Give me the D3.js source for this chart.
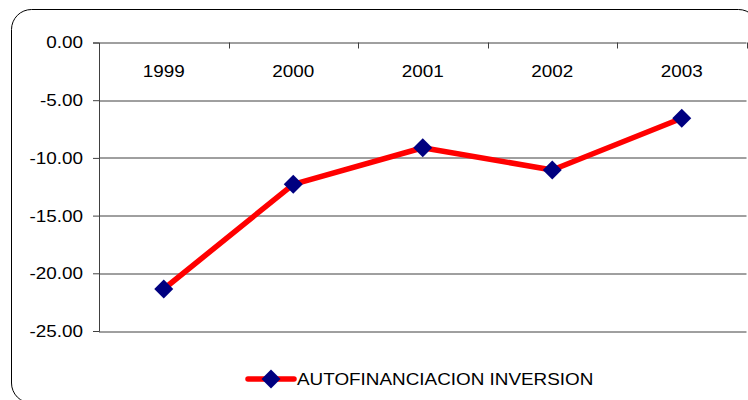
<!DOCTYPE html>
<html>
<head>
<meta charset="utf-8">
<script src="https://cdn.jsdelivr.net/npm/d3@7"></script>
<style>
  body { margin: 0; background: #fff; }
  svg text { font-family: "Liberation Sans", Arial, sans-serif; }
</style>
</head>
<body>
<svg id="chart" width="748" height="400"></svg>
<script>
// Data
const years = ["1999", "2000", "2001", "2002", "2003"];
const values = [-21.36, -12.29, -9.12, -11.05, -6.57];
const yTicks = [0, -5, -10, -15, -20, -25];
const seriesName = "AUTOFINANCIACION INVERSION";

const svg = d3.select("#chart");
const margin = { top: 42.5, left: 99, right: 1.5, bottom: 69 };
const width = 748 - margin.left - margin.right;
const height = 400 - margin.top - margin.bottom;

// Outer chart border (rounded, runs off the frame on the right and bottom)
svg.append("rect")
  .attr("x", 11.5).attr("y", 9.5)
  .attr("width", 747).attr("height", 393.5)
  .attr("rx", 20).attr("ry", 20)
  .attr("fill", "none")
  .attr("stroke", "#000")
  .attr("stroke-width", 1);

const g = svg.append("g").attr("transform", `translate(${margin.left},${margin.top})`);

const x = d3.scaleBand().domain(years).range([0, width]);
const y = d3.scaleLinear().domain([0, -25]).range([0, height]);

// Horizontal gridlines
g.selectAll(".grid")
  .data(yTicks)
  .enter()
  .append("line")
  .attr("x1", 0).attr("x2", width)
  .attr("y1", (d) => Math.round(y(d)) + 0.5)
  .attr("y2", (d) => Math.round(y(d)) + 0.5)
  .attr("stroke", "#404040")
  .attr("stroke-width", 1);

// Left axis
const yAxis = g.append("g")
  .call(d3.axisLeft(y).tickValues(yTicks).tickSize(6).tickPadding(10).tickFormat((d) => d.toFixed(2)));
yAxis.select(".domain").attr("stroke", "#404040");
yAxis.selectAll(".tick line").attr("stroke", "#404040");
yAxis.selectAll("text").style("font-size", "17px").attr("fill", "#000");

// Top category axis at 0 with ticks between categories
const xAxis = g.append("g")
  .call(d3.axisBottom(x).tickSize(0).tickPadding(22));
xAxis.select(".domain").remove();
xAxis.selectAll("text").style("font-size", "17px").attr("fill", "#000");

g.selectAll(".cat-tick")
  .data(years.slice(1).concat(["end"]))
  .enter()
  .append("line")
  .attr("x1", (d, i) => Math.round(x(years[0]) + x.step() * (i + 1)) + 0.5)
  .attr("x2", (d, i) => Math.round(x(years[0]) + x.step() * (i + 1)) + 0.5)
  .attr("y1", 0).attr("y2", 6)
  .attr("stroke", "#404040");

// Series line
const line = d3.line()
  .x((d, i) => x(years[i]) + x.bandwidth() / 2)
  .y((d) => y(d));

g.append("path")
  .datum(values)
  .attr("d", line)
  .attr("fill", "none")
  .attr("stroke", "#ff0000")
  .attr("stroke-width", 5.5)
  .attr("stroke-linejoin", "round");

const diamond = d3.symbol().type(d3.symbolSquare).size(180);

g.selectAll(".marker")
  .data(values)
  .enter()
  .append("path")
  .attr("d", diamond)
  .attr("transform", (d, i) => `translate(${x(years[i]) + x.bandwidth() / 2},${y(d)}) rotate(45)`)
  .attr("fill", "#000080");

// Legend
const legend = svg.append("g").attr("transform", "translate(248,379)");
legend.append("line")
  .attr("x1", 0).attr("x2", 46)
  .attr("y1", 0).attr("y2", 0)
  .attr("stroke", "#ff0000")
  .attr("stroke-width", 5.5)
  .attr("stroke-linecap", "round");
legend.append("path")
  .attr("d", diamond)
  .attr("transform", "translate(23,0) rotate(45)")
  .attr("fill", "#000080");
legend.append("text")
  .attr("x", 49).attr("y", 6)
  .style("font-size", "17px")
  .attr("fill", "#000")
  .text(seriesName);

// The original text is a little wider than Liberation Sans at the same height
svg.selectAll("text").each(function () {
  const w = this.getComputedTextLength();
  d3.select(this)
    .attr("textLength", w * 1.11)
    .attr("lengthAdjust", "spacingAndGlyphs");
});
</script>
</body>
</html>
